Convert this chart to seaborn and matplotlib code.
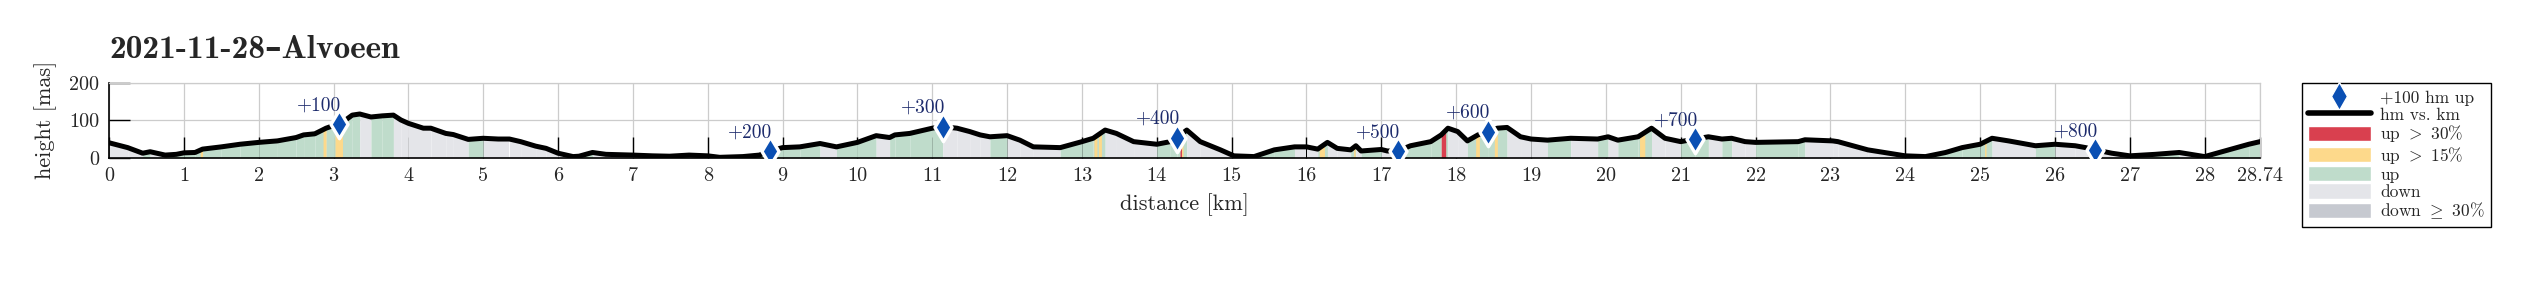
import numpy as np
import pandas as pd
import matplotlib
matplotlib.use("Agg")
import matplotlib.pyplot as plt
import seaborn as sns
from matplotlib.lines import Line2D
from matplotlib.patches import Patch

# ---------------- data ----------------
title = "2021-11-28\u2013Alvoeen"

km = [0, 0.25, 0.45, 0.55, 0.75, 0.9, 1.0, 1.15, 1.25, 1.5, 1.75, 2.0, 2.25, 2.5, 2.6,
      2.75, 2.9, 3.0, 3.1, 3.25, 3.35, 3.5, 3.65, 3.8, 3.9, 4.0, 4.2, 4.3, 4.5, 4.6, 4.8,
      5.0, 5.2, 5.35, 5.5, 5.7, 5.84, 6.0, 6.2, 6.28, 6.46, 6.64, 7.0, 7.26, 7.49, 7.75,
      8.0, 8.16, 8.47, 8.69, 8.83, 9.0, 9.23, 9.5, 9.72, 10.0, 10.25, 10.43, 10.5, 10.7,
      11.0, 11.14, 11.33, 11.5, 11.64, 11.77, 12.0, 12.17, 12.35, 12.71, 13.0, 13.15,
      13.31, 13.46, 13.69, 14.0, 14.18, 14.27, 14.4, 14.58, 14.85, 15.03, 15.3, 15.57,
      15.84, 16.0, 16.15, 16.28, 16.41, 16.59, 16.66, 16.73, 17.0, 17.08, 17.22, 17.39,
      17.66, 17.8, 17.89, 18.02, 18.15, 18.29, 18.42, 18.55, 18.68, 18.86, 19.0, 19.22,
      19.53, 19.89, 20.03, 20.16, 20.43, 20.61, 20.79, 21.0, 21.19, 21.37, 21.55, 21.68,
      21.86, 22.0, 22.57, 22.66, 23.03, 23.1, 23.5, 24.0, 24.27, 24.54, 24.76, 25.0,
      25.16, 25.38, 25.74, 26.0, 26.27, 26.41, 26.54, 26.76, 27.0, 27.34, 27.66, 28.0,
      28.32, 28.59, 28.74]
height = [40, 27, 12, 16, 7, 9, 13, 14, 23, 29, 36, 41, 45, 54, 61,
          64, 79, 86, 92, 114, 117, 109, 112, 114, 101, 92, 79, 79, 65, 62, 49,
          52, 50, 50, 43, 31, 25, 12, 3, 4, 14, 9, 7, 5, 4, 7,
          5, 1, 3, 7, 18, 27, 29, 38, 29, 41, 59, 54, 61, 65,
          79, 83, 79, 70, 61, 56, 59, 47, 29, 27, 43, 52,
          74, 65, 43, 36, 43, 54, 74, 43, 21, 5, 3, 21,
          29, 29, 23, 41, 25, 21, 32, 18, 22, 18, 18, 32,
          43, 61, 79, 70, 45, 61, 70, 79, 81, 56, 50, 47,
          52, 50, 56, 47, 56, 79, 52, 43, 50, 56, 50, 52,
          43, 41, 43, 48, 45, 43, 21, 5, 3, 14, 27, 36,
          52, 45, 32, 36, 32, 27, 21, 12, 5, 9, 14, 3,
          21, 36, 43]

marker_km = [3.07, 8.83, 11.14, 14.27, 17.22, 18.42, 21.19, 26.54]
marker_h = [90, 18, 83, 54, 18, 70, 50, 21]
marker_labels = ["+100", "+200", "+300", "+400", "+500", "+600", "+700", "+800"]

steep15_spans = [(1.22, 1.25), (2.86, 2.90), (3.02, 3.12), (13.16, 13.20), (13.22, 13.26),
                 (14.33, 14.35), (16.17, 16.24), (16.63, 16.65), (18.26, 18.31),
                 (18.51, 18.55), (20.45, 20.52), (25.06, 25.08)]
steep30_spans = [(14.31, 14.33), (17.80, 17.86)]

x_ticks = list(range(0, 29)) + [28.74]
x_ticklabels = [str(t) for t in range(0, 29)] + ["28.74"]
y_ticks = [0, 100, 200]

legend_labels = ["+100 hm up", "hm vs. km", r"up $>$ 30%", r"up $>$ 15%", "up", "down",
                 r"down $\geq$ 30%"]

# ---------------- style ----------------
C_RED = "#d9404f"
C_YEL = "#fdd98b"
C_GRN = "#bfdccb"
C_DOWN = "#e4e5e9"
C_DOWN30 = "#c6c9d0"
C_BLUE = "#0a4fb3"
C_NAVY = "#1d2b6c"

sns.set_theme(style="white")
plt.rcParams["font.family"] = ["cmr10", "DejaVu Serif"]
plt.rcParams["mathtext.fontset"] = "cm"
plt.rcParams["axes.unicode_minus"] = False
plt.rcParams["axes.formatter.use_mathtext"] = True

fig = plt.figure(figsize=(25.27, 2.89), dpi=100)
ax = fig.add_axes([109 / 2527, 1 - 157.7 / 289, (2260 - 109) / 2527, 74.7 / 289])

df = pd.DataFrame({"km": km, "height": height})
kx = np.asarray(km, float)
hy = np.asarray(height, float)

# gradient bands below profile
for i in range(len(kx) - 1):
    col = C_GRN if hy[i + 1] > hy[i] else C_DOWN
    ax.fill_between(kx[i:i + 2], 0, hy[i:i + 2], color=col, lw=0, zorder=1)

def span_fill(spans, color):
    for a, b in spans:
        xs = np.array([a, b])
        ax.fill_between(xs, 0, np.interp(xs, kx, hy), color=color, lw=0, zorder=1.1)

span_fill(steep15_spans, C_YEL)
span_fill(steep30_spans, C_RED)

sns.lineplot(data=df, x="km", y="height", sort=False, color="black", lw=3.6, ax=ax,
             zorder=3)

mdf = pd.DataFrame({"km": marker_km, "h": marker_h})
sns.scatterplot(data=mdf, x="km", y="h", marker="d", s=210, color=C_BLUE,
                edgecolor="white", linewidth=2.4, ax=ax, zorder=4)
for d, h, lab in zip(marker_km, marker_h, marker_labels):
    ax.annotate(lab, (d, h), xytext=(2, 7), textcoords="offset points", ha="right",
                va="bottom", color=C_NAVY, fontsize=14, zorder=5)

ax.set_xlim(0, 28.74)
ax.set_ylim(0, 200)
ax.set_xticks(x_ticks)
ax.set_xticklabels(x_ticklabels)
ax.set_yticks(y_ticks)
ax.set_yticklabels([str(v) for v in y_ticks])
ax.tick_params(axis="both", direction="in", length=15, width=1.0, color="black",
               labelsize=14.5, pad=7, bottom=True, left=True, top=False, right=False)
ax.grid(True, color="#cccccc", lw=0.9)
for s in ["left", "bottom"]:
    ax.spines[s].set_color("black")
    ax.spines[s].set_linewidth(1.2)
for s in ["top", "right"]:
    ax.spines[s].set_color("#cccccc")
    ax.spines[s].set_linewidth(0.9)

ax.set_xlabel("distance [km]", fontsize=16)
ax.set_ylabel("height [mas]", fontsize=16)
ax.xaxis.set_label_coords(0.5, -0.48)
ax.yaxis.set_label_coords(-0.024, 0.5)

ax.set_title(title, loc="left", fontsize=24, fontweight="bold",
             family=["cmb10", "DejaVu Serif"], pad=18)

handles = [
    Line2D([], [], marker="d", color=C_BLUE, ls="none", markersize=14,
           markeredgecolor="white"),
    Line2D([], [], color="black", lw=4),
    Patch(facecolor=C_RED), Patch(facecolor=C_YEL), Patch(facecolor=C_GRN),
    Patch(facecolor=C_DOWN), Patch(facecolor=C_DOWN30),
]
leg = fig.legend(handles, legend_labels, loc="upper left",
                 bbox_to_anchor=(2302 / 2527, 1 - 83 / 289), borderaxespad=0,
                 fontsize=12.5, handlelength=3.6, handleheight=0.97, labelspacing=0.03,
                 borderpad=0.35, handletextpad=0.55, fancybox=False, framealpha=1,
                 edgecolor="black")
leg.get_frame().set_linewidth(1.0)

fig.savefig("out.png", dpi=100)
